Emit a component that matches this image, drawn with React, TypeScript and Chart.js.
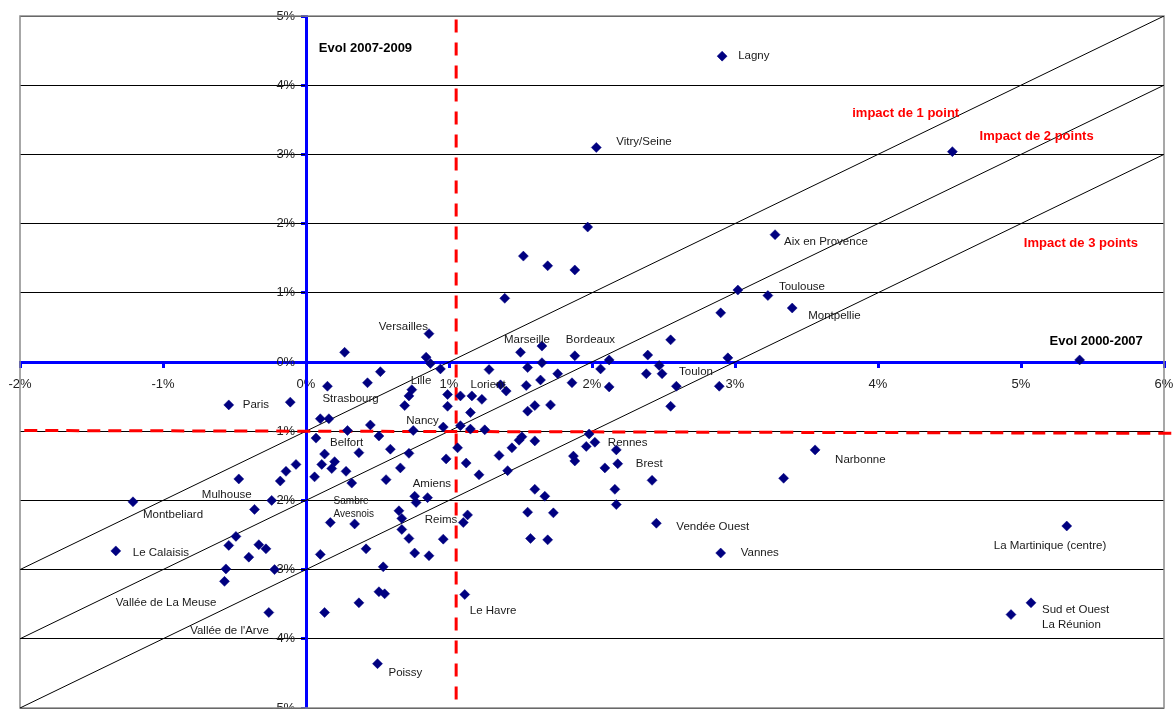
import React, { useEffect, useRef } from "react";
import { Chart, registerables } from "chart.js";

Chart.register(...registerables);

// ---------- DATA ----------
const cityNames: string[] = [
  "Lagny", "Vitry/Seine", "", "Aix en Provence", "", "", "", "", "", "",
  "Toulouse", "", "", "Versailles", "Marseille", "", "Bordeaux", "", "", "",
  "", "", "", "", "", "", "", "", "", "",
  "", "Toulon", "", "", "", "", "", "", "", "Lorient",
  "Lille", "", "", "", "", "", "", "", "", "",
  "", "", "", "", "Nancy", "", "", "", "", "",
  "", "", "", "", "", "", "", "", "", "",
  "", "", "", "Rennes", "", "", "", "", "Brest", "",
  "", "", "", "", "", "", "Amiens", "", "", "",
  "", "", "", "", "", "", "", "Reims", "", "",
  "", "", "Vendée Ouest", "Vannes", "", "", "", "Le Havre", "Poissy", "",
  "Narbonne", "La Martinique (centre)", "Sud et Ouest\nLa Réunion", "", "Montpellie", "", "", "", "Strasbourg", "Paris",
  "", "", "", "", "", "Belfort", "", "", "", "",
  "", "", "", "", "", "", "", "", "Montbeliard", "Mulhouse",
  "", "", "Sambre\nAvesnois", "", "", "", "", "", "", "",
  "Le Calaisis", "", "", "Vallée de La Meuse", "", "Vallée de l'Arve", "",
];

// Evol 2000-2007 (x, %)
const evol2000_2007: number[] = [
  2.91, 2.03, 1.97, 3.28, 4.52, 1.52, 1.69, 1.88, 1.39, 3.02,
  3.23, 2.90, 2.55, 0.86, 1.65, 1.50, 1.88, 2.39, 2.95, 0.84,
  0.87, 0.94, 0.52, 1.28, 1.55, 1.65, 1.76, 2.06, 2.12, 2.47,
  2.38, 2.49, 1.64, 1.54, 1.86, 2.12, 2.59, 2.89, 1.40, 1.36,
  0.74, 0.72, 0.99, 1.08, 1.16, 1.23, 0.69, 0.99, 1.15, 1.55,
  1.60, 1.71, 2.55, 0.96, 0.75, 1.08, 1.15, 1.25, 0.51, 0.59,
  0.72, 0.66, 0.98, 1.06, 1.12, 1.35, 1.44, 1.49, 1.51, 1.60,
  1.41, 1.98, 1.96, 2.02, 2.17, 1.87, 1.88, 2.09, 2.18, 0.56,
  1.21, 2.42, 2.16, 1.60, 1.67, 2.17, 0.76, 0.85, 0.77, 0.65,
  0.67, 0.67, 0.72, 0.96, 0.76, 0.86, 1.13, 1.10, 1.55, 1.73,
  1.57, 1.69, 2.45, 2.90, 0.54, 0.51, 0.55, 1.11, 0.50, 3.34,
  3.56, 5.32, 5.07, 4.93, 3.40, 5.41, 0.27, 0.43, 0.15, -0.54,
  -0.11, 0.10, 0.16, 0.45, 0.29, 0.07, 0.13, 0.37, 0.20, 0.11,
  -0.07, -0.14, 0.18, -0.18, 0.06, 0.28, 0.32, -0.47, -1.21, -0.24,
  -0.36, 0.17, 0.34, -0.49, -0.54, -0.33, -0.28, -0.40, 0.10, 0.42,
  -1.33, -0.56, -0.22, -0.57, 0.37, -0.26, 0.13,
];

// Evol 2007-2009 (y, %)
const evol2007_2009: number[] = [
  4.42, 3.10, 1.95, 1.84, 3.04, 1.53, 1.39, 1.33, 0.92, 1.04,
  0.96, 0.71, 0.32, 0.41, 0.23, 0.14, 0.09, 0.10, 0.06, 0.07,
  -0.02, -0.10, -0.14, -0.11, -0.08, -0.01, -0.17, -0.10, 0.03, -0.05,
  -0.17, -0.17, -0.26, -0.34, -0.30, -0.36, -0.35, -0.35, -0.42, -0.33,
  -0.40, -0.49, -0.47, -0.49, -0.49, -0.54, -0.63, -0.64, -0.73, -0.71,
  -0.63, -0.62, -0.64, -0.94, -0.99, -0.92, -0.97, -0.98, -1.07, -1.26,
  -1.32, -1.53, -1.40, -1.24, -1.46, -1.35, -1.24, -1.13, -1.08, -1.14,
  -1.57, -1.04, -1.22, -1.16, -1.27, -1.36, -1.43, -1.53, -1.47, -1.70,
  -1.63, -1.71, -1.84, -1.84, -1.94, -2.06, -1.94, -1.96, -2.03, -2.15,
  -2.26, -2.42, -2.55, -2.56, -2.76, -2.80, -2.21, -2.32, -2.17, -2.18,
  -2.55, -2.57, -2.33, -2.76, -2.96, -3.32, -3.35, -3.36, -4.36, -1.68,
  -1.27, -2.37, -3.48, -3.65, 0.78, 0.03, 0.14, -0.30, -0.35, -0.62,
  -0.58, -0.82, -0.82, -0.91, -0.99, -1.10, -1.33, -1.31, -1.44, -1.48,
  -1.48, -1.58, -1.54, -1.72, -1.66, -1.58, -1.75, -1.69, -2.02, -2.00,
  -2.13, -2.32, -2.34, -2.52, -2.65, -2.64, -2.70, -2.82, -2.78, -2.70,
  -2.73, -2.99, -3.00, -3.17, -3.48, -3.62, -3.62,
];

const xTickMin = -2;
const xTickMax = 6;
const yTickMin = -5;
const yTickMax = 5;

// impact lines (y = x - k) endpoints
const impactLineX = [-2, 6];
const impact1Y = [-3, 5];
const impact2Y = [-4, 4];
const impact3Y = [-5, 3];

// red dashed reference lines
const refVerticalX = [1.05, 1.05];
const refVerticalY = [4.95, -5];
const refHorizontalX = [-1.97, 6.07];
const refHorizontalY = [-0.99, -1.03];

const annotationTexts = ["Evol 2007-2009", "impact de 1 point", "Impact de 2 points", "Impact de 3 points", "Evol 2000-2007"];
const annotationX = [0.09, 3.82, 4.71, 5.02, 5.2];
const annotationY = [4.53, 3.59, 3.26, 1.71, 0.30];

// ---------- STYLE ----------
const FONT = "'Liberation Sans', Arial, Helvetica, sans-serif";
const annotationColors = ["#000000", "#ff0000", "#ff0000", "#ff0000", "#000000"];

type LabelPlacement = { dx: number; dy: number; align?: CanvasTextAlign; size?: number };
const labelPlacement: Record<string, LabelPlacement> = {
  "Lagny": { dx: 16, dy: 0 },
  "Vitry/Seine": { dx: 20, dy: -6 },
  "Aix en Provence": { dx: 9, dy: 7 },
  "Toulouse": { dx: 11, dy: -9 },
  "Versailles": { dx: -1, dy: -7, align: "right" },
  "Marseille": { dx: -38, dy: -6 },
  "Bordeaux": { dx: -9, dy: -16 },
  "Toulon": { dx: 17, dy: -2 },
  "Lorient": { dx: -30, dy: 0 },
  "Lille": { dx: -1, dy: -9 },
  "Nancy": { dx: -7, dy: -10 },
  "Rennes": { dx: 13, dy: 1 },
  "Brest": { dx: 18, dy: 0 },
  "Amiens": { dx: -2, dy: -12 },
  "Reims": { dx: -6, dy: -3, align: "right" },
  "Vendée Ouest": { dx: 20, dy: 4 },
  "Vannes": { dx: 20, dy: 0 },
  "Le Havre": { dx: 5, dy: 16 },
  "Poissy": { dx: 11, dy: 9 },
  "Narbonne": { dx: 20, dy: 10 },
  "La Martinique (centre)": { dx: -73, dy: 20 },
  "Sud et Ouest\nLa Réunion": { dx: 11, dy: 7 },
  "Montpellie": { dx: 16, dy: 8 },
  "Strasbourg": { dx: -5, dy: 13 },
  "Paris": { dx: 14, dy: 0 },
  "Belfort": { dx: 14, dy: 5 },
  "Montbeliard": { dx: 10, dy: 13 },
  "Mulhouse": { dx: -20, dy: -6, align: "right" },
  "Sambre\nAvesnois": { dx: -21, dy: -23, size: 10 },
  "Le Calaisis": { dx: 17, dy: 2 },
  "Vallée de La Meuse": { dx: -8, dy: 21, align: "right" },
  "Vallée de l'Arve": { dx: 0, dy: 18, align: "right" },
};

const zeroSize = (s: any, horizontal: boolean) => {
  if (horizontal) s.height = 0;
  else s.width = 0;
  s.paddingLeft = 0;
  s.paddingRight = 0;
  s.paddingTop = 0;
  s.paddingBottom = 0;
};

const overlayPlugin = {
  id: "overlay",
  beforeDatasetsDraw(chart: any) {
    const { ctx, chartArea } = chart;
    const { left, top, right, bottom } = chartArea;
    ctx.save();
    ctx.strokeStyle = "#8a8a8a";
    ctx.lineWidth = 1.5;
    ctx.strokeRect(left, top, right - left, bottom - top);
    ctx.restore();
  },
  afterDatasetsDraw(chart: any) {
    const { ctx, scales } = chart;
    const xs = scales.x;
    const ys = scales.y;
    ctx.save();
    ctx.fillStyle = "#1a1a1a";
    ctx.textBaseline = "middle";
    cityNames.forEach((name, i) => {
      if (!name) return;
      const p = labelPlacement[name] || { dx: 10, dy: 0 };
      const px = xs.getPixelForValue(evol2000_2007[i]);
      const py = ys.getPixelForValue(evol2007_2009[i]);
      const size = p.size || 11.5;
      ctx.font = `${size}px ${FONT}`;
      ctx.textAlign = p.align || "left";
      const lines = name.split("\n");
      lines.forEach((ln, k) => {
        ctx.fillText(ln, px + p.dx, py + p.dy + k * (size + 3.5));
      });
    });
    annotationTexts.forEach((t, i) => {
      ctx.font = `bold 13px ${FONT}`;
      ctx.fillStyle = annotationColors[i];
      ctx.textAlign = "left";
      ctx.fillText(t, xs.getPixelForValue(annotationX[i]), ys.getPixelForValue(annotationY[i]));
    });
    ctx.restore();
  },
};

export default function App() {
  const canvasRef = useRef<HTMLCanvasElement | null>(null);

  useEffect(() => {
    const canvas = canvasRef.current;
    if (!canvas) return;
    const pts = evol2000_2007.map((x, i) => ({ x, y: evol2007_2009[i] }));
    const line = (xArr: number[], yArr: number[]) => xArr.map((x, i) => ({ x, y: yArr[i] }));
    const lineDs = (data: any[], extra: any) => ({
      type: "line",
      data,
      borderColor: "#000000",
      borderWidth: 1,
      pointRadius: 0,
      fill: false,
      showLine: true,
      order: 5,
      ...extra,
    });

    const chart = new Chart(canvas, {
      type: "scatter",
      data: {
        datasets: [
          {
            label: "villes",
            data: pts,
            pointStyle: "rectRot",
            pointRadius: 5,
            backgroundColor: "#000080",
            borderColor: "#000080",
            borderWidth: 0.5,
            order: 0,
          },
          lineDs(line(impactLineX, impact1Y), {}),
          lineDs(line(impactLineX, impact2Y), {}),
          lineDs(line(impactLineX, impact3Y), {}),
          lineDs(line(refVerticalX, refVerticalY), { borderColor: "#ff0000", borderWidth: 3, borderDash: [13, 10], order: 3 }),
          lineDs(line(refHorizontalX, refHorizontalY), { borderColor: "#ff0000", borderWidth: 3, borderDash: [13, 8], order: 3, clip: false }),
        ] as any,
      },
      options: {
        responsive: false,
        animation: false,
        events: [],
        layout: { autoPadding: false, padding: { left: 20, top: 16, right: 10, bottom: 1 } },
        plugins: { legend: { display: false }, tooltip: { enabled: false } },
        scales: {
          x: {
            type: "linear",
            axis: "x",
            min: xTickMin,
            max: xTickMax,
            position: { y: 0 } as any,
            ticks: {
              stepSize: 1,
              autoSkip: false,
              maxRotation: 0,
              padding: 11,
              color: "#222222",
              font: { family: FONT, size: 13 },
              callback: (v: any) => `${v}%`,
            },
            grid: { drawOnChartArea: false, drawTicks: true, tickLength: 4, tickColor: "#0000ff", color: "#0000ff", lineWidth: 3 },
            border: { display: true, color: "#0000ff", width: 3 },
            afterFit: (s: any) => zeroSize(s, true),
          },
          y: {
            type: "linear",
            axis: "y",
            min: yTickMin,
            max: yTickMax,
            position: { x: 0 } as any,
            ticks: {
              stepSize: 1,
              autoSkip: false,
              padding: 6,
              color: "#222222",
              font: { family: FONT, size: 13 },
              callback: (v: any) => `${v}%   `,
            },
            grid: { drawOnChartArea: false, drawTicks: true, tickLength: 4, tickColor: "#0000ff", color: "#0000ff", lineWidth: 3 },
            border: { display: true, color: "#0000ff", width: 3 },
            afterFit: (s: any) => zeroSize(s, false),
          },
          yGrid: {
            type: "linear",
            axis: "y",
            min: yTickMin,
            max: yTickMax,
            position: "left",
            ticks: { stepSize: 1, display: false },
            grid: {
              drawOnChartArea: true,
              drawTicks: false,
              lineWidth: 1,
              color: (ctx: any) => (ctx.tick && ctx.tick.value === 0 ? "rgba(0,0,0,0)" : "#000000"),
            },
            border: { display: false },
            afterFit: (s: any) => zeroSize(s, false),
          },
        } as any,
      },
      plugins: [overlayPlugin as any],
    });
    return () => chart.destroy();
  }, []);

  return (
    <div style={{ position: "absolute", left: 0, top: 0, width: 1174, height: 709, background: "#fff" }}>
      <canvas ref={canvasRef} width={1174} height={709} style={{ display: "block" }} />
    </div>
  );
}
